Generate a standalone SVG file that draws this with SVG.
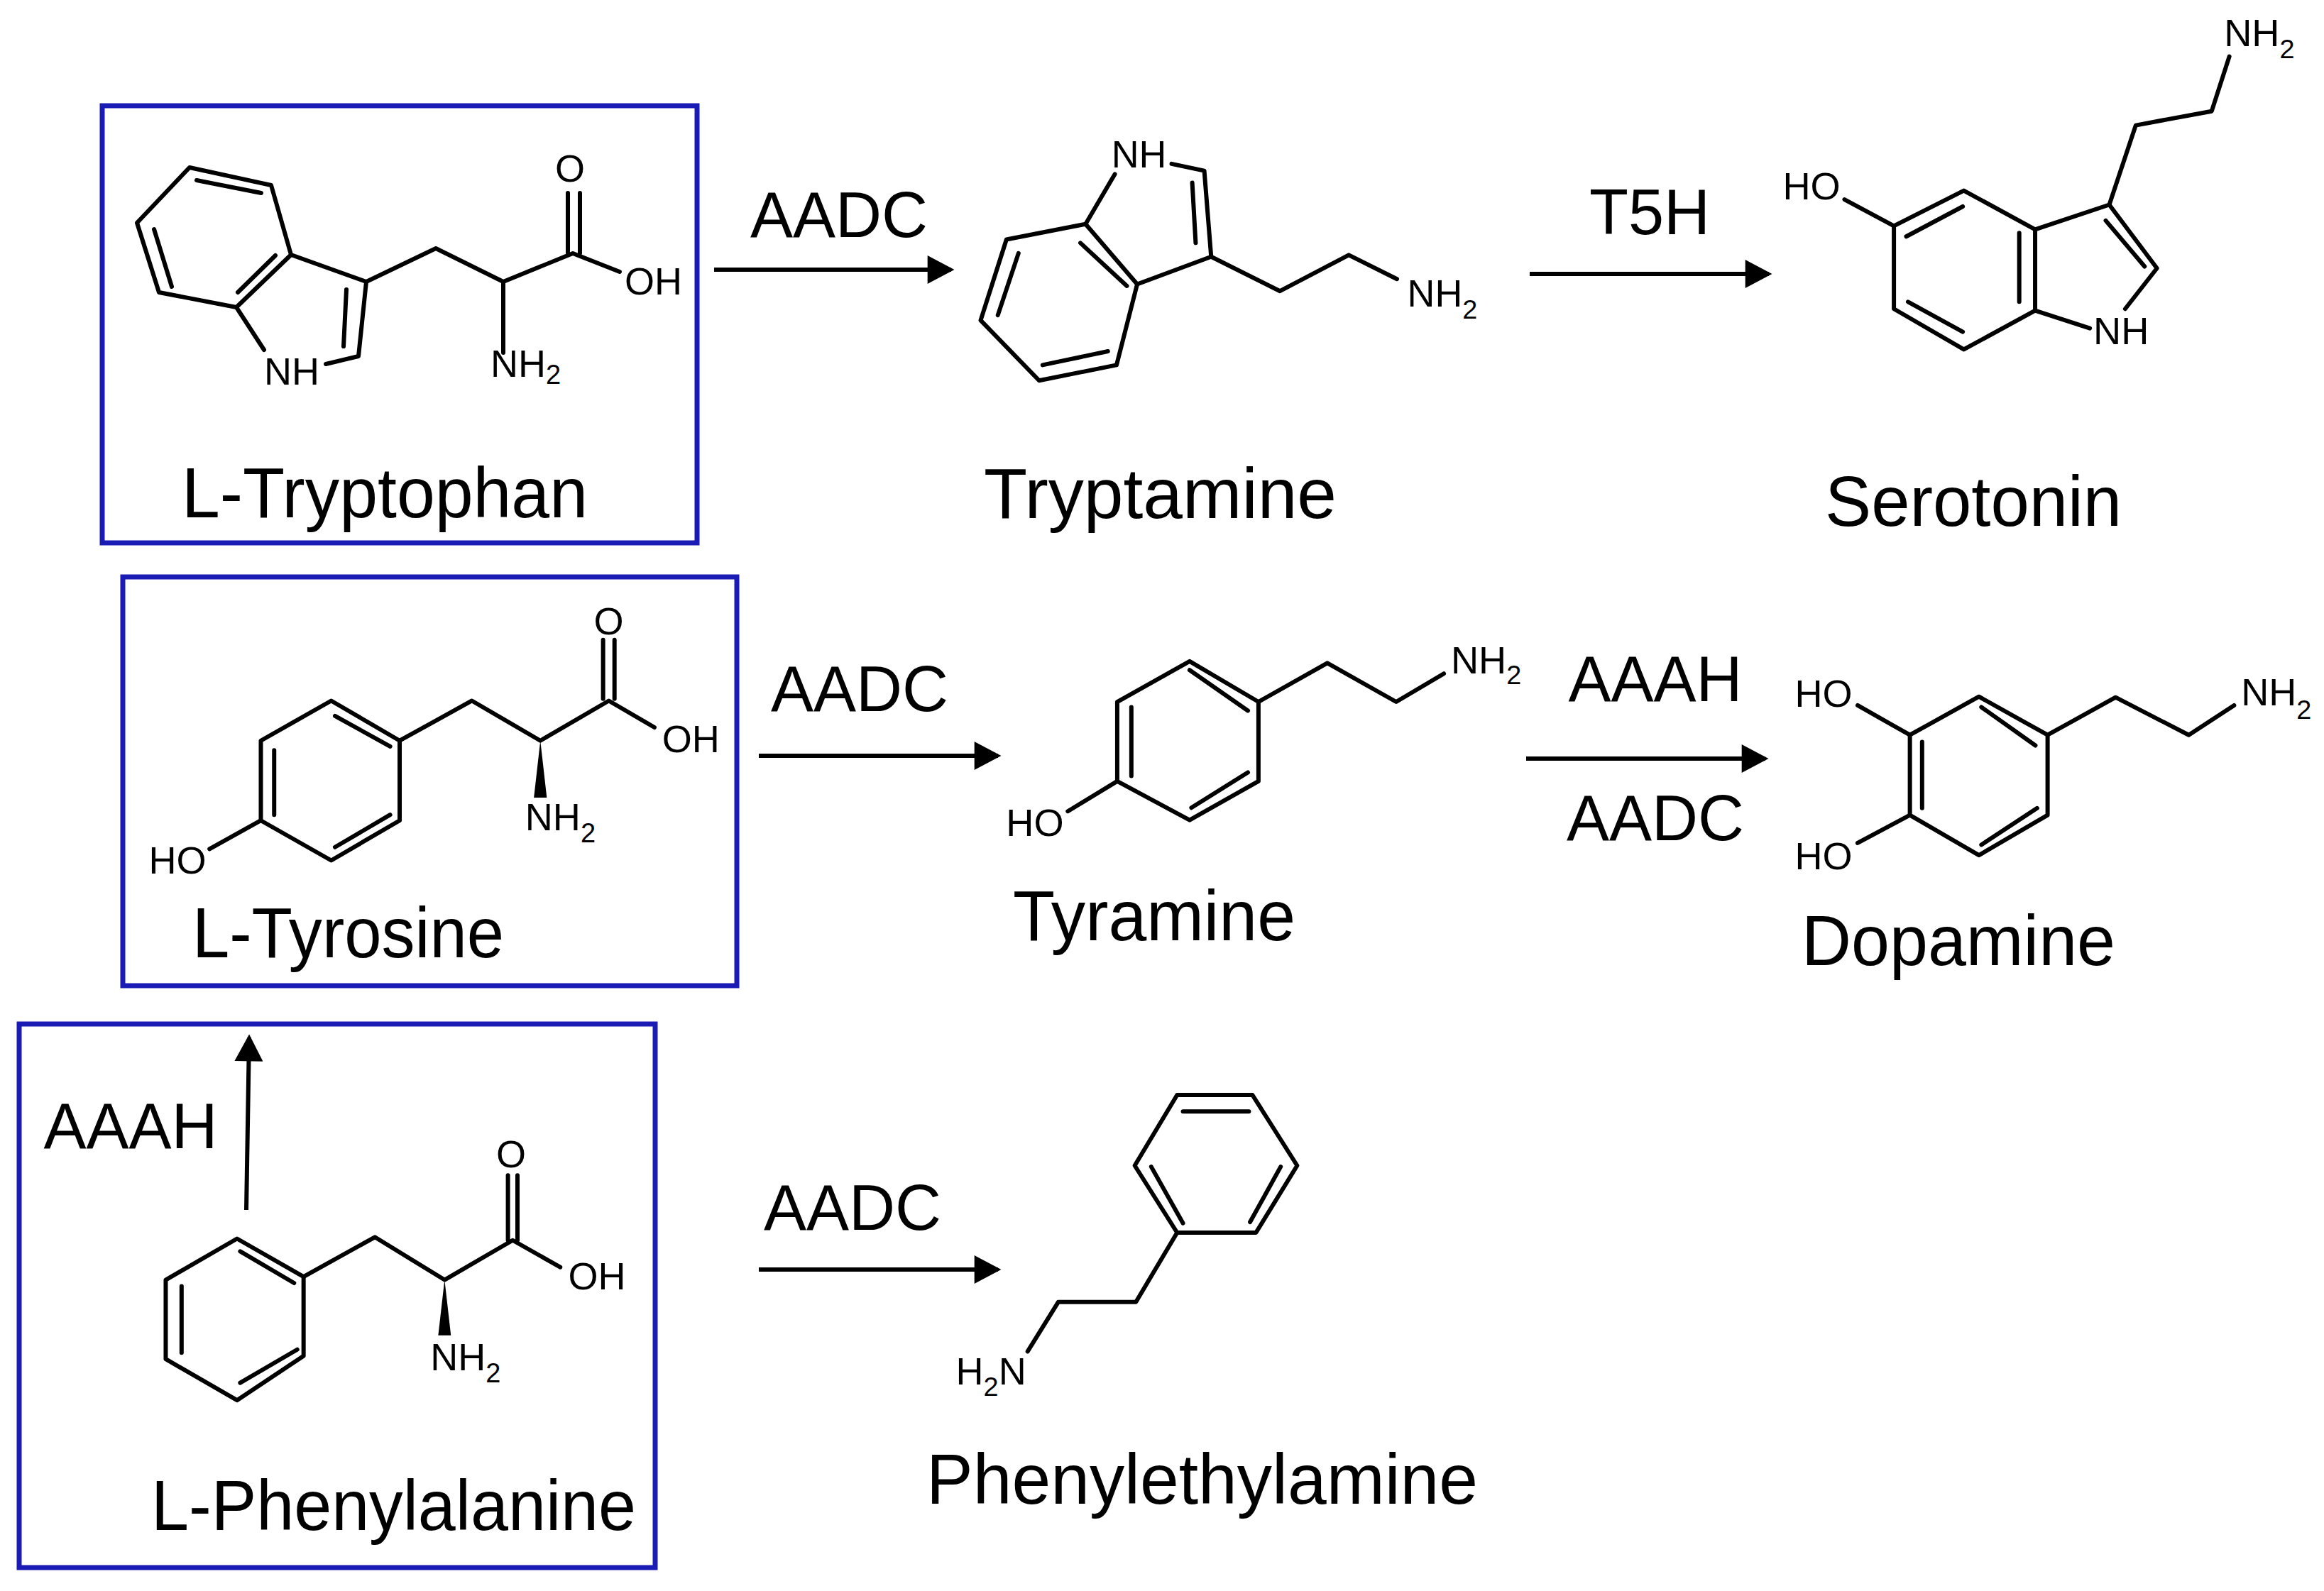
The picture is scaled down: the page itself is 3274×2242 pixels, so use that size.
<svg xmlns="http://www.w3.org/2000/svg" width="3274" height="2242" viewBox="0 0 3274 2242">
<style>
.b{fill:none;stroke:#000;stroke-width:6;stroke-linecap:round;stroke-linejoin:round;vector-effect:non-scaling-stroke}
.w{fill:#000}
.box{fill:none;stroke:#1a1ab4;stroke-width:7}
.name{font-family:"Liberation Sans",Arial,sans-serif;font-size:101px;fill:#000}
.enz{font-family:"Liberation Sans",Arial,sans-serif;font-size:90px;fill:#000;text-anchor:middle}
.at{font-family:"Liberation Sans",Arial,sans-serif;fill:#000}
.arr{stroke:#000;stroke-width:6;fill:none}
</style>
<defs>
<marker id="ah" markerUnits="userSpaceOnUse" markerWidth="40" markerHeight="40" viewBox="0 0 34 36" refX="30" refY="18" orient="auto">
<path d="M0,0 L34,18 L0,36 Z" fill="#000"/>
</marker>
</defs>
<rect width="3274" height="2242" fill="#fff"/>

<g id="connectors">
<line class="arr" x1="1006" y1="380" x2="1340" y2="380" marker-end="url(#ah)"/>
<line class="arr" x1="2155" y1="386" x2="2492" y2="386" marker-end="url(#ah)"/>
<line class="arr" x1="1069" y1="1065" x2="1406" y2="1065" marker-end="url(#ah)"/>
<line class="arr" x1="2150" y1="1069" x2="2487" y2="1069" marker-end="url(#ah)"/>
<line class="arr" x1="1069" y1="1789" x2="1406" y2="1789" marker-end="url(#ah)"/>
<line class="arr" x1="347" y1="1705" x2="351" y2="1462" marker-end="url(#ah)"/>
<text class="enz" x="1182" y="334">AADC</text>
<text class="enz" x="2324" y="330">T5H</text>
<text class="enz" x="1211" y="1002">AADC</text>
<text class="enz" x="2332" y="988">AAAH</text>
<text class="enz" x="2332" y="1184">AADC</text>
<text class="enz" x="184" y="1618">AAAH</text>
<text class="enz" x="1201" y="1733">AADC</text>
</g>

<g id="tryptophan">
<rect class="box" x="144" y="149" width="838" height="616"/>
<path class="b" d="M267,236 L382,261 L410,359 L333,433 L224,412 L193,314 Z"/>
<path class="b" d="M277,254 L368,272 M217,323 L242,404 M388,360 L335,412"/>
<path class="b" d="M333,433 L372,493 M459,513 L505,502 L516,397 L410,359 M488,408 L484,488"/>
<path class="b" d="M516,397 L614,350 L709,397 L807,357 L873,383 M709,397 L709,497 M800,357 L800,272 M817,357 L817,272"/>
<text class="at" x="803" y="256" font-size="54" text-anchor="middle">O</text>
<text class="at" x="880" y="415" font-size="54">OH</text>
<text class="at" x="372" y="542" font-size="54">NH</text>
<text class="at" x="691" y="531" font-size="54">NH<tspan font-size="38" dy="10">2</tspan></text>
<text class="name" x="256" y="729" textLength="572" lengthAdjust="spacingAndGlyphs">L-Tryptophan</text>
</g>

<g id="tryptamine">
<g transform="translate(1350,100) scale(0.4847)">
<path class="b" d="M140,490 L370,445 L520,620 L460,855 L235,900 L65,725 Z"/>
<path class="b" d="M175,530 L115,710 M245,855 L435,815 M355,500 L490,625"/>
<path class="b" d="M370,445 L455,300 M620,270 L715,290 L735,540 L520,620 M680,325 L690,500"/>
<path class="b" d="M735,540 L935,640 L1135,535 L1275,605"/>
<text class="at" x="445" y="280" font-size="111">NH</text>
<text class="at" x="1305" y="685" font-size="111">NH<tspan font-size="78" dy="35">2</tspan></text>
</g>
<text class="name" x="1386" y="730" textLength="497" lengthAdjust="spacingAndGlyphs">Tryptamine</text>
</g>

<g id="serotonin">
<g transform="translate(2494,0) scale(0.4974)">
<path class="b" d="M548,540 L750,650 L750,880 L548,990 L350,875 L350,640 Z"/>
<path class="b" d="M385,670 L545,585 M705,660 L705,855 M390,855 L545,940"/>
<path class="b" d="M350,640 L210,565 M750,650 L960,580 L1095,760 L1005,875 M750,880 L905,930 M950,625 L1060,755"/>
<path class="b" d="M960,580 L1035,355 L1250,315 L1300,160"/>
<text class="at" x="35" y="565" font-size="109">HO</text>
<text class="at" x="915" y="975" font-size="109">NH</text>
<text class="at" x="1285" y="130" font-size="109">NH<tspan font-size="76" dy="35">2</tspan></text>
</g>
<text class="name" x="2571" y="741" textLength="418" lengthAdjust="spacingAndGlyphs">Serotonin</text>
</g>

<g id="tyrosine">
<rect class="box" x="173" y="813" width="865" height="576"/>
<g transform="translate(180,800) scale(0.5357)">
<path class="b" d="M535,350 L715,455 L715,665 L535,770 L350,665 L350,455 Z"/>
<path class="b" d="M545,390 L690,470 M385,480 L385,650 M545,735 L690,650"/>
<path class="b" d="M350,665 L215,740 M715,455 L905,350 L1085,455 L1265,350 L1385,420 M1250,345 L1250,190 M1280,345 L1280,190"/>
<path class="w" d="M1085,455 L1068,605 L1102,605 Z"/>
<text class="at" x="55" y="805" font-size="101">HO</text>
<text class="at" x="1265" y="175" font-size="101" text-anchor="middle">O</text>
<text class="at" x="1405" y="485" font-size="101">OH</text>
<text class="at" x="1045" y="690" font-size="101">NH<tspan font-size="71" dy="32">2</tspan></text>
</g>
<text class="name" x="271" y="1349" textLength="439" lengthAdjust="spacingAndGlyphs">L-Tyrosine</text>
</g>

<g id="tyramine">
<g transform="translate(1370,800) scale(0.4974)">
<path class="b" d="M615,265 L810,380 L810,605 L615,715 L410,605 L410,380 Z"/>
<path class="b" d="M615,290 L780,405 M450,395 L450,590 M620,680 L780,580"/>
<path class="b" d="M410,605 L270,690 M810,380 L1005,270 L1200,380 L1335,300"/>
<text class="at" x="95" y="760" font-size="109">HO</text>
<text class="at" x="1355" y="300" font-size="109">NH<tspan font-size="76" dy="30">2</tspan></text>
</g>
<text class="name" x="1427" y="1325" textLength="398" lengthAdjust="spacingAndGlyphs">Tyramine</text>
</g>

<g id="dopamine">
<g transform="translate(2504,800) scale(0.4911)">
<path class="b" d="M578,370 L775,480 L775,710 L578,825 L380,710 L380,480 Z"/>
<path class="b" d="M585,400 L740,510 M415,500 L415,690 M585,795 L745,690"/>
<path class="b" d="M380,480 L230,395 M380,710 L230,790 M775,480 L970,372 L1180,480 L1310,395"/>
<text class="at" x="50" y="400" font-size="110">HO</text>
<text class="at" x="50" y="865" font-size="110">HO</text>
<text class="at" x="1330" y="395" font-size="110">NH<tspan font-size="77" dy="38">2</tspan></text>
</g>
<text class="name" x="2538" y="1360" textLength="442" lengthAdjust="spacingAndGlyphs">Dopamine</text>
</g>

<g id="phenylalanine">
<rect class="box" x="27" y="1443" width="896" height="766"/>
<g transform="translate(200,1500) scale(0.4464)">
<path class="b" d="M300,550 L510,670 L510,920 L300,1060 L75,930 L75,680 Z"/>
<path class="b" d="M310,590 L480,690 M125,700 L125,910 M310,1005 L490,900"/>
<path class="b" d="M510,670 L735,545 L955,680 L1170,555 L1320,640 M1155,555 L1155,350 M1185,555 L1185,350"/>
<path class="w" d="M955,680 L935,855 L975,855 Z"/>
<text class="at" x="1165" y="325" font-size="121" text-anchor="middle">O</text>
<text class="at" x="1345" y="710" font-size="121">OH</text>
<text class="at" x="910" y="965" font-size="121">NH<tspan font-size="85" dy="38">2</tspan></text>
</g>
<text class="name" x="213" y="2156" textLength="683" lengthAdjust="spacingAndGlyphs">L-Phenylalanine</text>
</g>

<g id="phenylethylamine">
<g transform="translate(1330,1480) scale(0.3316)">
<path class="b" d="M990,190 L1310,190 L1500,490 L1325,775 L990,775 L810,490 Z"/>
<path class="b" d="M1015,260 L1295,260 M880,495 L1015,735 M1430,495 L1300,730"/>
<path class="b" d="M990,775 L815,1070 L485,1070 L355,1280"/>
<text class="at" x="50" y="1420" font-size="163">H<tspan font-size="114" dy="50">2</tspan><tspan dy="-50">N</tspan></text>
</g>
<text class="name" x="1305" y="2119" textLength="777" lengthAdjust="spacingAndGlyphs">Phenylethylamine</text>
</g>
</svg>
